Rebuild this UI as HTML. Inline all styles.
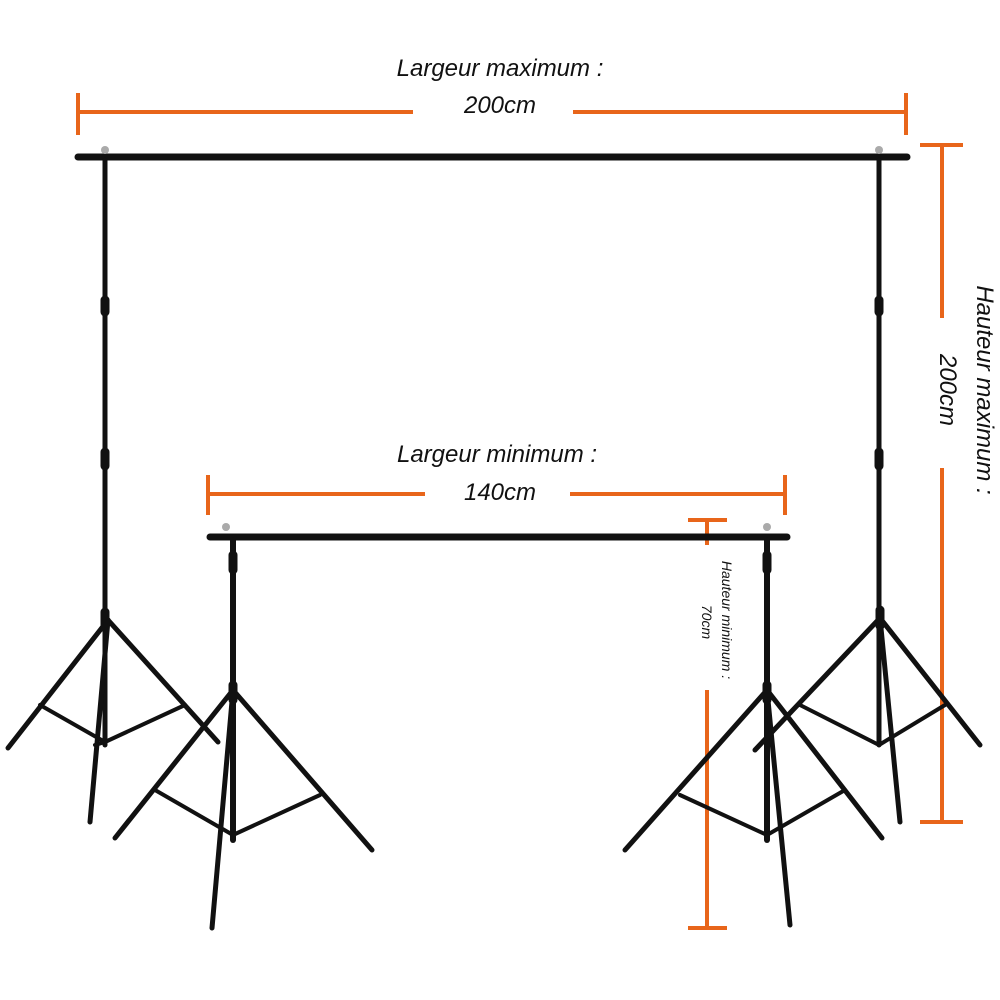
<!DOCTYPE html>
<html><head><meta charset="utf-8"><style>
html,body{margin:0;padding:0;background:#fff;width:1000px;height:1000px;overflow:hidden}
text{font-family:"Liberation Sans",sans-serif;font-style:italic;fill:#111}
</style></head><body>
<svg width="1000" height="1000" viewBox="0 0 1000 1000" xmlns="http://www.w3.org/2000/svg">
<g stroke="#e8651a" stroke-width="4" fill="none">
<line x1="78" y1="112" x2="413" y2="112"/><line x1="573" y1="112" x2="906" y2="112"/>
<line x1="78" y1="93" x2="78" y2="135"/><line x1="906" y1="93" x2="906" y2="135"/>
<line x1="942" y1="145" x2="942" y2="318"/><line x1="942" y1="468" x2="942" y2="822"/>
<line x1="920" y1="145" x2="963" y2="145"/><line x1="920" y1="822" x2="963" y2="822"/>
<line x1="208" y1="494" x2="425" y2="494"/><line x1="570" y1="494" x2="785" y2="494"/>
<line x1="208" y1="475" x2="208" y2="515"/><line x1="785" y1="475" x2="785" y2="515"/>
<line x1="707" y1="520" x2="707" y2="545"/><line x1="707" y1="690" x2="707" y2="928"/>
<line x1="688" y1="520" x2="727" y2="520"/><line x1="688" y1="928" x2="727" y2="928"/>
</g>
<text x="500" y="76" font-size="24" text-anchor="middle">Largeur maximum :</text>
<text x="500" y="113" font-size="24" text-anchor="middle">200cm</text>
<text x="497" y="462" font-size="24" text-anchor="middle">Largeur minimum :</text>
<text x="500" y="500" font-size="24" text-anchor="middle">140cm</text>
<text transform="translate(977,390) rotate(90)" font-size="24" text-anchor="middle">Hauteur maximum :</text>
<text transform="translate(940,390) rotate(90)" font-size="24" text-anchor="middle">200cm</text>
<text transform="translate(722,620) rotate(90)" font-size="14" text-anchor="middle">Hauteur minimum :</text>
<text transform="translate(702,622) rotate(90)" font-size="14" text-anchor="middle">70cm</text>
<g stroke="#111" stroke-linecap="round">
<line x1="78" y1="157" x2="907" y2="157" stroke-width="7"/>
<line x1="210" y1="537" x2="787" y2="537" stroke-width="7"/>
<line x1="105" y1="160" x2="105" y2="745" stroke-width="5"/>
<line x1="879" y1="160" x2="879" y2="745" stroke-width="5"/>
<line x1="233" y1="540" x2="233" y2="840" stroke-width="6"/>
<line x1="767" y1="540" x2="767" y2="840" stroke-width="6"/>
<g stroke-width="5">
<line x1="108" y1="620" x2="8" y2="748"/><line x1="108" y1="620" x2="90" y2="822"/><line x1="108" y1="620" x2="218" y2="742"/>
<line x1="233" y1="690" x2="115" y2="838"/><line x1="233" y1="690" x2="212" y2="928"/><line x1="233" y1="690" x2="372" y2="850"/>
<line x1="767" y1="690" x2="625" y2="850"/><line x1="767" y1="690" x2="790" y2="925"/><line x1="767" y1="690" x2="882" y2="838"/>
<line x1="880" y1="618" x2="755" y2="750"/><line x1="880" y1="618" x2="900" y2="822"/><line x1="880" y1="618" x2="980" y2="745"/>
</g>
<g stroke-width="4">
<line x1="105" y1="742" x2="40" y2="705"/><line x1="105" y1="742" x2="95" y2="745"/><line x1="105" y1="742" x2="185" y2="705"/>
<line x1="233" y1="835" x2="155" y2="790"/><line x1="233" y1="835" x2="320" y2="795"/>
<line x1="767" y1="835" x2="680" y2="795"/><line x1="767" y1="835" x2="845" y2="790"/>
<line x1="879" y1="745" x2="800" y2="705"/><line x1="879" y1="745" x2="945" y2="705"/>
</g>
<g stroke-width="9">
<line x1="105" y1="300" x2="105" y2="312"/><line x1="105" y1="452" x2="105" y2="466"/><line x1="105" y1="612" x2="105" y2="628"/>
<line x1="879" y1="300" x2="879" y2="312"/><line x1="879" y1="452" x2="879" y2="466"/><line x1="880" y1="610" x2="880" y2="626"/>
<line x1="233" y1="555" x2="233" y2="570"/><line x1="233" y1="685" x2="233" y2="700"/>
<line x1="767" y1="555" x2="767" y2="570"/><line x1="767" y1="685" x2="767" y2="700"/>
</g>
</g>
<g fill="#aaa"><circle cx="105" cy="150" r="4"/><circle cx="879" cy="150" r="4"/><circle cx="226" cy="527" r="4"/><circle cx="767" cy="527" r="4"/></g>
</svg>
</body></html>
